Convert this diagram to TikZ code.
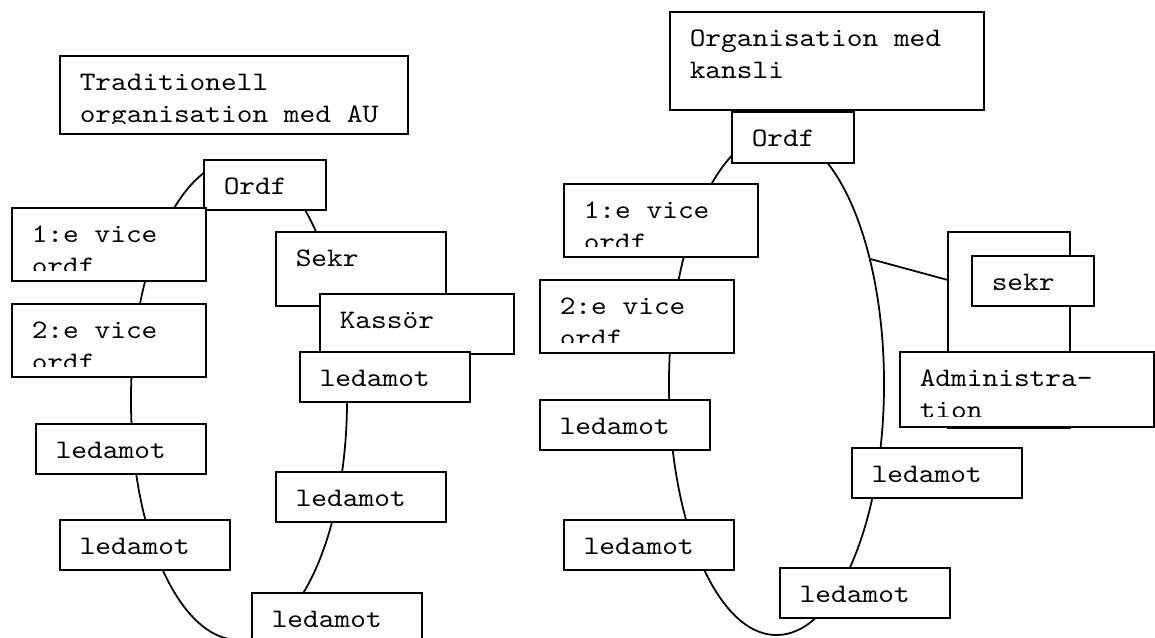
\documentclass[tikz,border=0pt]{standalone}
\usepackage{fontspec}
\newfontfamily\seatfont{lmmono10-regular.otf}[FakeStretch=1.12]
\usetikzlibrary{shapes.geometric}

\begin{document}
\begin{tikzpicture}[x=0.025cm, y=-0.025cm,
    ring/.style ={ellipse, draw, line width=1.25pt, inner sep=0pt},
    seat/.style ={draw, fill=white, line width=1.25pt, inner sep=0pt, anchor=north west,
      path picture={
        \clip ([yshift=0.25cm]path picture bounding box.south west) rectangle (path picture bounding box.north east);
        \node[anchor=base west, inner sep=0pt, minimum width=0pt, minimum height=0pt,
              font=\seatfont\fontsize{19}{22.8}\selectfont]
          at ([xshift=0.475cm, yshift=-0.875cm]path picture bounding box.north west)
          {\begin{tabular}[t]{@{}l@{}}#1\end{tabular}};}},
    short/.style ={minimum width=3.05cm, minimum height=1.25cm},
    mid/.style ={minimum width=4.25cm, minimum height=1.25cm},
    wide/.style ={minimum width=4.85cm, minimum height=1.825cm}]
   \useasboundingbox (0,0) rectangle (1155,637);

   % the two rings
   \node[ring, minimum width=5.4cm, minimum height=12cm] (ringL) at (239,400) {};
   \node[ring, minimum width=5.375cm, minimum height=12.55cm] (ringR) at (776.5,384) {};

   % traditionell organisation
   \node[seat={Traditionell\\organisation med AU}, minimum width=8.7cm, minimum height=1.95cm] (titleL) at (59,55) {};
   \node[seat={Ordf}, short] (ordfL) at (203,159) {};
   \node[seat={1:e vice\\ordf}, wide] (vice1L) at (11,207) {};
   \node[seat={2:e vice\\ordf}, wide] (vice2L) at (11,303) {};
   \node[seat={Sekr}, minimum width=4.25cm, minimum height=1.85cm] (sekrL) at (275,231) {};
   \node[seat={Kassör}, minimum width=4.85cm, minimum height=1.5cm] (kassor) at (319,293) {};
   \node[seat={ledamot}, mid] (led1L) at (299,351) {};
   \node[seat={ledamot}, mid] (led2L) at (35,423) {};
   \node[seat={ledamot}, mid] (led3L) at (275,471) {};
   \node[seat={ledamot}, mid] (led4L) at (59,519) {};
   \node[seat={ledamot}, mid] (led5L) at (251,592) {};

   % organisation med kansli
   \node[seat={Organisation med\\kansli}, minimum width=7.85cm, minimum height=2.45cm] (titleR) at (669,11) {};
   \node[seat={Ordf}, short, minimum height=1.275cm] (ordfR) at (731,111) {};
   \node[seat={1:e vice\\ordf}, wide] (vice1R) at (563,183) {};
   \node[seat={2:e vice\\ordf}, wide] (vice2R) at (539,279) {};
   \node[seat={}, minimum width=3.05cm, minimum height=4.9cm] (kansli) at (947,231) {};
   \draw[line width=1.25pt] (ringR.53) -- (kansli.141);
   \node[seat={sekr}, short] (sekrR) at (971,255) {};
   \node[seat={Administra-\\tion}, minimum width=6.35cm, minimum height=1.875cm] (admin) at (899,351) {};
   \node[seat={ledamot}, mid] (led1R) at (539,399) {};
   \node[seat={ledamot}, mid] (led2R) at (851,447) {};
   \node[seat={ledamot}, mid] (led3R) at (563,519) {};
   \node[seat={ledamot}, mid] (led4R) at (779,567) {};
 \end{tikzpicture}
\end{document}
